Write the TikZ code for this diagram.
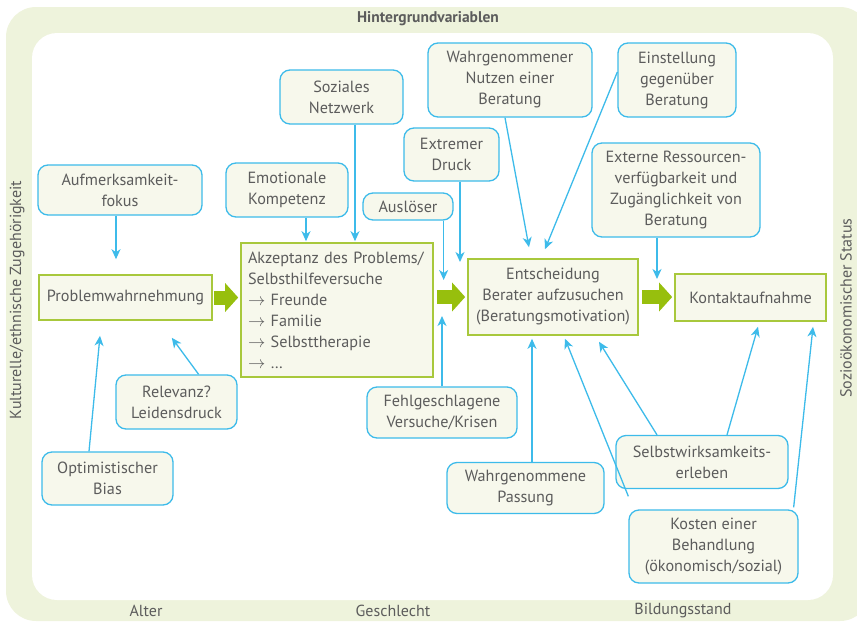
\documentclass[tikz,border=0pt]{standalone}
\usepackage{fontspec}
\setmainfont{PT Sans}
\usetikzlibrary{arrows.meta,calc}
\definecolor{bgGreen}{HTML}{EEF3DC}
\definecolor{boxFill}{HTML}{F7F8EC}
\definecolor{cyanC}{HTML}{3DBBEA}
\definecolor{greenC}{HTML}{A8C83C}
\definecolor{arrowGreen}{HTML}{97BF0D}
\definecolor{txtGray}{HTML}{5C5C5C}
\tikzset{
  txt/.style={text=txtGray, font=\fontsize{16.2}{21}\selectfont},
  bluebox/.style={txt, draw=cyanC, line width=1.3pt, fill=boxFill, rounded corners=10pt, align=center, inner sep=0pt},
  greenbox/.style={txt, draw=greenC, line width=1.6pt, fill=boxFill, align=center, inner sep=0pt},
  sz/.style 2 args={minimum width=#1pt, minimum height=#2pt},
  blarrow/.style={draw=cyanC, line width=1.3pt, -{Stealth[length=10pt,width=9pt,inset=3pt]}},
  bigarrow/.style={draw=arrowGreen, line width=14pt, -{Triangle[length=13pt,width=28pt]}},
  sidelabel/.style={text=txtGray, font=\fontsize{16}{20}\selectfont}
}
\begin{document}
\begin{tikzpicture}[x=1pt,y=-1pt]
\useasboundingbox (0,0) rectangle (857,624);
\begin{scope}
\clip (0,0) rectangle (857,624);
\fill[bgGreen, rounded corners=30pt] (6,7) rectangle (870,621);
\fill[white, rounded corners=25pt] (32,33) rectangle (833,600);
\end{scope}

% frame labels
\node[text=txtGray, font=\fontsize{15.5}{20}\selectfont\bfseries] (title) at (428,19) {Hintergrundvariablen};
\node[sidelabel, rotate=90] (kult) at (17,300) {Kulturelle/ethnische Zugehörigkeit};
\node[sidelabel, rotate=90] (sozio) at (846,308) {Sozioökonomischer Status};
\node[sidelabel] (alter) at (146,611) {Alter};
\node[sidelabel] (geschl) at (393,611) {Geschlecht};
\node[sidelabel] (bildung) at (683,611) {Bildungsstand};

% blue boxes
\node[bluebox, sz={164}{50}] (aufm) at (120,190) {Aufmerksamkeit-\\fokus};
\node[bluebox, sz={122}{54}] (emot) at (287,190) {Emotionale\\Kompetenz};
\node[bluebox, sz={123}{54}] (soz) at (341.5,97) {Soziales\\Netzwerk};
\node[bluebox, sz={164}{74}] (nutz) at (510,80) {Wahrgenommener\\Nutzen einer\\Beratung};
\node[bluebox, sz={118}{74}] (einst) at (677,80) {Einstellung\\gegenüber\\Beratung};
\node[bluebox, sz={95}{53}] (druck) at (451.5,154.5) {Extremer\\Druck};
\node[bluebox, sz={90}{27}] (ausl) at (408,206.5) {Auslöser};
\node[bluebox, sz={168}{94}] (ext) at (676,190) {Externe Ressourcen-\\verfügbarkeit und\\Zugänglichkeit von\\Beratung};
\node[bluebox, sz={121}{54}] (rel) at (176.5,402) {Relevanz?\\Leidensdruck};
\node[bluebox, sz={131}{53}] (opt) at (107.5,478.5) {Optimistischer\\Bias};
\node[bluebox, sz={150}{51}] (fehl) at (442,412.5) {Fehlgeschlagene\\Versuche/Krisen};
\node[bluebox, sz={157}{51}] (pass) at (525.5,488) {Wahrgenommene\\Passung};
\node[bluebox, sz={172}{53}] (selbst) at (702,462) {Selbstwirksamkeits-\\erleben};
\node[bluebox, sz={169}{73}] (kost) at (713.5,546.5) {Kosten einer\\Behandlung\\(ökonomisch/sozial)};

% green boxes
\node[greenbox, sz={173}{45}] (prob) at (125.5,297.5) {Problemwahrnehmung};
\node[greenbox, sz={192}{134}, align=left, text width=178pt] (akz) at (337,310) {Akzeptanz des Problems/\\Selbsthilfeversuche\\$\rightarrow$ Freunde\\$\rightarrow$ Familie\\$\rightarrow$ Selbsttherapie\\$\rightarrow$ \dots};
\node[greenbox, sz={170}{76}] (ent) at (553,297) {Entscheidung\\Berater aufzusuchen\\(Beratungsmotivation)};
\node[greenbox, sz={151}{47}] (kont) at (750.5,297.5) {Kontaktaufnahme};

% green block arrows
\draw[bigarrow] ([xshift=1pt]prob.east) -- ([xshift=-2pt]akz.west |- prob.east);
\draw[bigarrow] ([xshift=3pt]akz.east |- ent.west) -- ([xshift=-2pt]ent.west);
\draw[bigarrow] ([xshift=3pt]ent.east) -- ([xshift=-2pt]kont.west |- ent.east);

% blue arrows
\draw[blarrow] ([xshift=-4pt]aufm.south) -- ([xshift=-4pt,yshift=15pt]aufm.south |- prob.north);
\draw[blarrow] ([xshift=19pt]emot.south) -- ([xshift=19pt,yshift=1pt]emot.south |- akz.north);
\draw[blarrow] ([xshift=13.5pt]soz.south) -- ([xshift=13.5pt,yshift=1pt]soz.south |- akz.north);
\draw[blarrow] ([xshift=-10pt]ausl.south east) -- ([xshift=-10pt,yshift=-280pt]ausl.south east |- 0,0);
\draw[blarrow] ([xshift=8.5pt]druck.south) -- ([xshift=8.5pt]druck.south |- 0,262);
\draw[blarrow] (fehl.north) -- (fehl.north |- 0,316);
\draw[blarrow] ([xshift=-5pt]nutz.south) -- ([xshift=-24pt,yshift=11pt]ent.north);
\draw[blarrow] ([yshift=8pt]einst.west) -- ([xshift=-8pt,yshift=9pt]ent.north);
\draw[blarrow] ([xshift=-19pt]ext.south) -- ([xshift=-19pt]ext.south |- 0,279);
\draw[blarrow] ([xshift=6.5pt]pass.north) -- ([xshift=6.5pt,yshift=-3pt]pass.north |- ent.south);
\draw[blarrow] ([yshift=13pt]kost.north west) -- ([xshift=12pt,yshift=-3pt]ent.south);
\draw[blarrow] ([xshift=-45pt]selbst.north) -- ([xshift=46pt,yshift=-6pt]ent.south);
\draw[blarrow] ([xshift=25pt]selbst.north) -- ([xshift=7.5pt,yshift=-5pt]kont.south);
\draw[blarrow] ([xshift=-5pt,yshift=2pt]kost.north east) -- ([xshift=62.5pt,yshift=-5pt]kont.south);
\draw[blarrow] ([xshift=-39pt]rel.north east) -- ([xshift=-41pt,yshift=-17pt]prob.south east);
\draw[blarrow] ([xshift=-18.5pt]opt.north) -- ([xshift=-25.5pt,yshift=-15pt]prob.south);
\end{tikzpicture}
\end{document}
